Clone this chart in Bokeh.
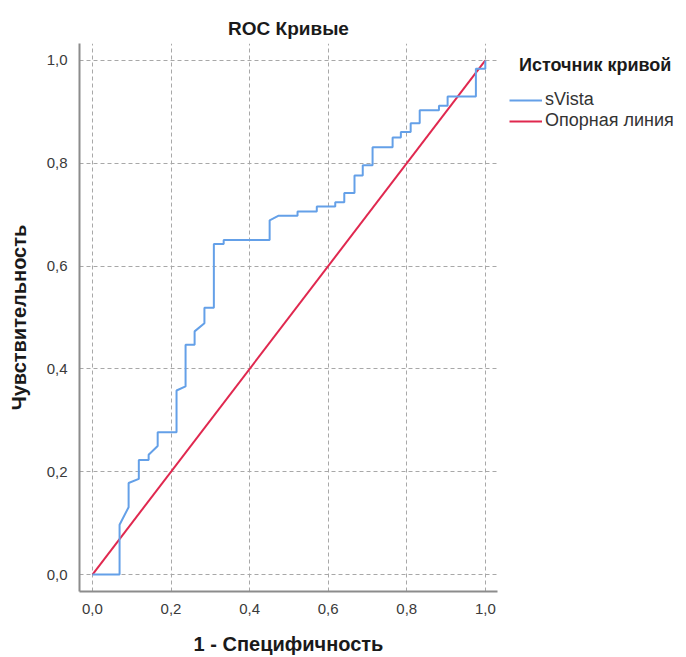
from bokeh.plotting import figure
from bokeh.models import Range1d, FixedTicker, CustomJSTickFormatter, Legend, LegendItem
from bokeh.embed import file_html
from bokeh.resources import INLINE

# ROC curve data (1 - specificity, sensitivity)
fpr = [0.0, 0.069, 0.069, 0.092, 0.092, 0.118, 0.118, 0.143, 0.143, 0.166, 0.166,
       0.214, 0.214, 0.237, 0.237, 0.260, 0.260, 0.285, 0.285, 0.309, 0.309,
       0.334, 0.334, 0.451, 0.451, 0.474, 0.522, 0.522, 0.571, 0.571, 0.618,
       0.618, 0.641, 0.641, 0.667, 0.667, 0.688, 0.688, 0.713, 0.713, 0.764,
       0.764, 0.785, 0.785, 0.810, 0.810, 0.833, 0.833, 0.882, 0.882, 0.904,
       0.904, 0.976, 0.976, 1.0, 1.0]
tpr = [0.0, 0.0, 0.097, 0.131, 0.178, 0.186, 0.223, 0.223, 0.233, 0.250, 0.277,
       0.277, 0.358, 0.366, 0.447, 0.447, 0.473, 0.489, 0.519, 0.519, 0.643,
       0.643, 0.651, 0.651, 0.689, 0.698, 0.698, 0.706, 0.706, 0.716, 0.716,
       0.724, 0.724, 0.742, 0.742, 0.776, 0.776, 0.796, 0.796, 0.831, 0.831,
       0.850, 0.850, 0.861, 0.861, 0.878, 0.878, 0.903, 0.903, 0.912, 0.912,
       0.930, 0.930, 0.984, 0.984, 1.0]
ref_x = [0.0, 1.0]
ref_y = [0.0, 1.0]
ticks = [0.0, 0.2, 0.4, 0.6, 0.8, 1.0]

series_names = ["sVista", "Опорная линия"]
legend_title = "Источник кривой"
title_text = "ROC Кривые"
x_label = "1 - Специфичность"
y_label = "Чувствительность"

FONT = "Liberation Sans"

p = figure(frame_width=418, frame_height=548, output_backend="svg", toolbar_location=None,
           x_range=Range1d(-0.033, 1.031), y_range=Range1d(-0.033, 1.033),
           min_border_left=79, min_border_right=189, min_border_top=43, min_border_bottom=66)
p.outline_line_color = None
p.background_fill_color = "white"
p.border_fill_color = "white"

p.title.text = title_text
p.title.align = "center"
p.title.text_font = FONT
p.title.text_font_size = "19px"
p.title.text_font_style = "bold"
p.title.text_color = "#1a1a1a"
p.title.standoff = 10

fmt = CustomJSTickFormatter(code="return tick.toFixed(1).replace('.', ',');")
for ax in (p.xaxis[0], p.yaxis[0]):
    ax.ticker = FixedTicker(ticks=ticks)
    ax.formatter = fmt
    ax.axis_line_color = "#8c8c8c"
    ax.axis_line_width = 2
    ax.major_tick_line_color = None
    ax.minor_tick_line_color = None
    ax.major_label_text_font = FONT
    ax.major_label_text_font_size = "15px"
    ax.major_label_text_color = "#3a3a3a"
    ax.axis_label_text_font = FONT
    ax.axis_label_text_font_size = "20px"
    ax.axis_label_text_font_style = "bold"
    ax.axis_label_text_color = "#1a1a1a"

p.xaxis[0].axis_label = x_label
p.yaxis[0].axis_label = y_label
p.xaxis[0].major_label_standoff = 6
p.xaxis[0].axis_label_standoff = 16
p.yaxis[0].major_label_standoff = 6
p.yaxis[0].axis_label_standoff = 14

for g in (p.xgrid[0], p.ygrid[0]):
    g.ticker = FixedTicker(ticks=ticks)
    g.grid_line_color = "#a8a8a8"
    g.grid_line_dash = "4 3"
    g.grid_line_width = 1

r_ref = p.line(ref_x, ref_y, line_color="#e0284f", line_width=2)
r_roc = p.line(fpr, tpr, line_color="#64a0e8", line_width=2)

legend = Legend(items=[LegendItem(label=series_names[0], renderers=[r_roc]),
                       LegendItem(label=series_names[1], renderers=[r_ref])],
                title="\u00a0\u00a0" + legend_title,
                title_text_font=FONT, title_text_font_size="18px",
                title_text_font_style="bold", title_text_color="#1a1a1a",
                title_standoff=13,
                location="top_left", padding=0, margin=12, spacing=0,
                glyph_width=33, glyph_height=20, label_height=20, label_standoff=3,
                label_text_font=FONT, label_text_font_size="18px", label_text_color="#333333",
                border_line_color=None, background_fill_alpha=0)
p.add_layout(legend, "right")

open("out.html", "w").write(file_html(p, INLINE))
